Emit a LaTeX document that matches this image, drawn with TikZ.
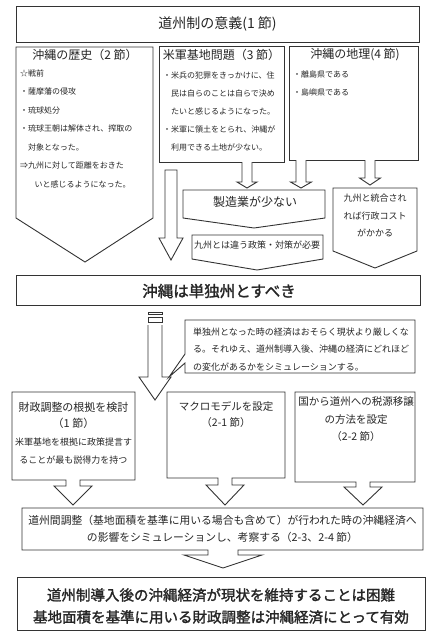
\documentclass[tikz,border=0pt]{standalone}
\usepackage{fontspec}
\setmainfont{Noto Sans CJK JP}
\newfontfamily\jpheavy[FakeBold=1.6]{Noto Sans CJK JP}
\newcommand{\fs}[2]{\fontsize{#1}{#2}\selectfont}
% hollow down arrow: centre x, top y, head y, tip y, shaft half, head half
\newcommand{\hollowdown}[6]{%
  \draw[line] (#1-#5,#2) -- (#1-#5,#3) -- (#1-#6,#3) -- (#1,#4) -- (#1+#6,#3) -- (#1+#5,#3) -- (#1+#5,#2);}
% box with a down arrow: left, top, right, bottom, centre x, neck half, neck length, head half, tip y
\newcommand{\downcallout}[9]{%
  \draw[line] (#1,#2) -- (#3,#2) -- (#3,#4) -- (#5+#6,#4) -- (#5+#6,#4+#7) -- (#5+#8,#4+#7) -- (#5,#9)
    -- (#5-#8,#4+#7) -- (#5-#6,#4+#7) -- (#5-#6,#4) -- (#1,#4) -- cycle;}
\begin{document}
\begin{tikzpicture}[x=1pt, y=-1pt,
    line/.style={draw=black!80, line width=0.9pt, fill=white},
    txt/.style={inner sep=0pt, text=black!85},
    lst/.style={txt, anchor=west, align=left},
    ctr/.style={txt, align=center}]

  \fill[white] (0,0) rectangle (445,640);
  \useasboundingbox (0,0) rectangle (445,640);

  % top
  \draw[line] (16,6) rectangle (419,42);
  \node[txt, font=\fs{14}{16}] (meaning) at (217.5,24) {道州制の意義(1 節)};

  % three chapters
  \draw[line] (16,47) -- (153,47) -- (153,218) -- (85,262) -- (16,218) -- cycle;
  \node[txt, font=\fs{12}{14}] (histT) at (85,55) {沖縄の歴史（2 節）};
  \node[lst, font=\fs{8}{18.5}] (histB) at (20,128.5) {☆戦前\\・薩摩藩の侵攻\\・琉球処分\\・琉球王朝は解体され、搾取の\\
    \hspace{1em}対象となった。\\⇒九州に対して距離をおきた\\\hspace{1.8em}いと感じるようになった。};

  \draw[line] (159,46) rectangle (284,162);
  \node[txt, font=\fs{12}{14}] (baseT) at (221.5,55) {米軍基地問題（3 節）};
  \node[lst, font=\fs{8}{18}] (baseB) at (163,111) {・米兵の犯罪をきっかけに、住\\\hspace{1em}民は自らのことは自らで決め\\
    \hspace{1em}たいと感じるようになった。\\・米軍に領土をとられ、沖縄が\\\hspace{1em}利用できる土地が少ない。};

  \draw[line] (289,46) rectangle (418,160);
  \node[txt, font=\fs{12}{14}] (geoT) at (355,55) {沖縄の地理(4 節)};
  \node[lst, font=\fs{8}{17.5}] (geoB) at (293,83.5) {・離島県である\\・島嶼県である};

  % arrows to the results
  \hollowdown{247}{162}{182}{188}{5}{10}
  \hollowdown{301}{160}{182}{188}{5}{10.5}
  \hollowdown{370}{160}{178}{185}{5}{10.5}
  \draw[line] (165,170) -- (177,170) -- (177,238) -- (183,238) -- (171,260) -- (159,238) -- (165,238) -- cycle;

  \draw[line] (183,190) -- (325,190) -- (325,218) -- (254,228) -- (183,218) -- cycle;
  \node[txt, font=\fs{12}{14}] (manuf) at (255,202) {製造業が少ない};
  \draw[line] (192,235) -- (323,235) -- (323,259) -- (257,270) -- (192,259) -- cycle;
  \node[txt, font=\fs{9}{11}] (policy) at (257,245) {九州とは違う政策・対策が必要};
  \draw[line] (333,188) -- (417,188) -- (417,251) -- (375,268) -- (333,251) -- cycle;
  \node[ctr, font=\fs{9}{17.5}] (cost) at (375,215.5) {九州と統合され\\れば行政コスト\\がかかる};

  % conclusion
  \draw[line] (16,275) rectangle (420,305);
  \node[txt, font=\fs{15.5}{17}\jpheavy] (single) at (219,291) {沖縄は単独州とすべき};

  % striped arrow and note
  \draw[line] (148,312) rectangle (162,314.5);
  \draw[line] (148,317) rectangle (162,322);
  \hollowdown{155}{325}{377}{400}{7}{16}
  \draw[line] (185,320) -- (415,320) -- (415,373) -- (185,373) -- (185,363) -- (169,377) -- (185,354) -- cycle;
  \node[lst, font=\fs{9}{17.5}] (note) at (193,349.5) {単独州となった時の経済はおそらく現状より厳しくな\\
    る。それゆえ、道州制導入後、沖縄の経済にどれほど\\の変化があるかをシミュレーションする。};

  % three tasks
  \downcallout{12}{392}{135}{480}{73}{7}{6}{19}{505}
  \node[ctr, font=\fs{11}{16}] (fiscalT) at (73.5,415) {財政調整の根拠を検討\\（1 節）};
  \node[ctr, font=\fs{9}{18}] (fiscalB) at (73.5,451) {米軍基地を根拠に政策提言す\\ることが最も説得力を持つ};

  \downcallout{167}{392}{285}{478}{225}{7}{7}{19}{505}
  \node[ctr, font=\fs{10.5}{16}] (macro) at (226,415) {マクロモデルを設定\\（2-1 節）};

  \downcallout{295}{392}{415}{482}{363}{7}{5}{19}{505}
  \node[ctr, font=\fs{10.5}{17.5}] (tax) at (356,419.5) {国から道州への税源移譲\\の方法を設定\\（2-2 節）};

  % simulation
  \downcallout{22}{508}{423}{550}{223}{15}{5}{39}{568}
  \node[ctr, font=\fs{10.8}{17}] (sim) at (222.5,528.5) {道州間調整（基地面積を基準に用いる場合も含めて）が行われた時の沖縄経済へ\\
    の影響をシミュレーションし、考察する（2-3、2-4 節）};

  % result
  \draw[line] (17,577) rectangle (425,630);
  \node[ctr, font=\fs{14.5}{22}\jpheavy] (result) at (221,606) {道州制導入後の沖縄経済が現状を維持することは困難\\
    基地面積を基準に用いる財政調整は沖縄経済にとって有効};
\end{tikzpicture}
\end{document}
